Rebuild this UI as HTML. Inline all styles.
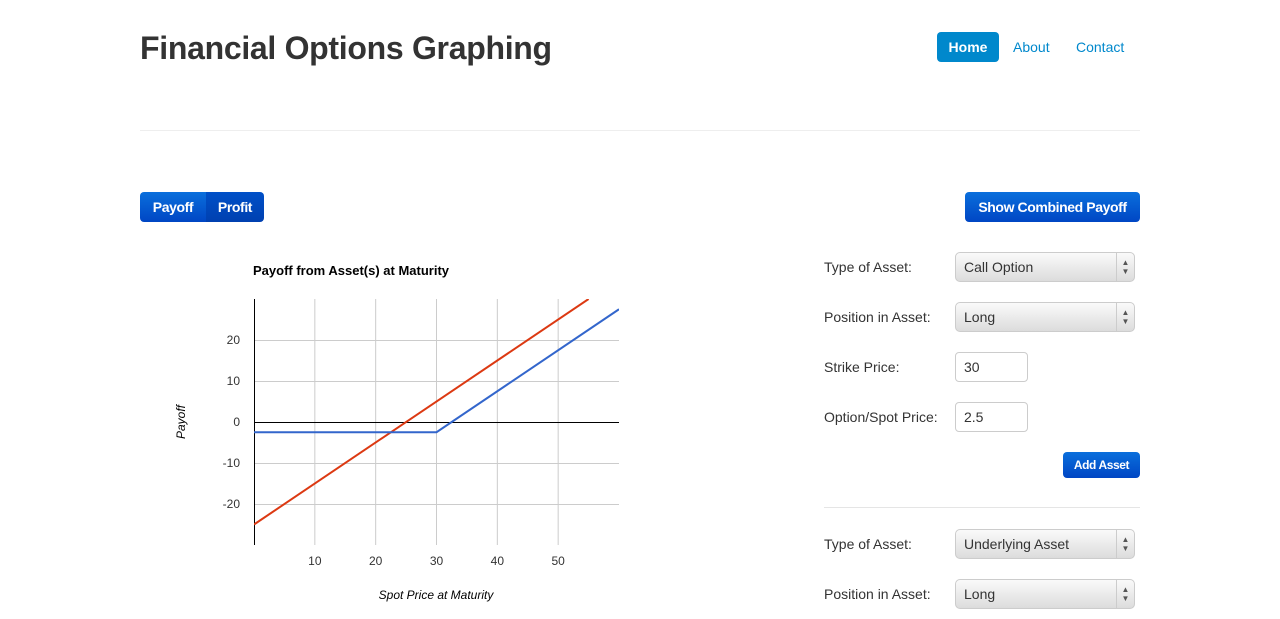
<!DOCTYPE html>
<html><head><meta charset="utf-8">
<style>
body{margin:0;width:1280px;height:619px;background:#fff;font-family:"Liberation Sans",Arial,sans-serif;position:relative;overflow:hidden;color:#333}
.a{position:absolute}
h1{position:absolute;left:140px;top:30px;margin:0;font-size:32px;font-weight:bold;color:#333;letter-spacing:-0.3px}
.nav{font-size:14px;color:#0088cc}
.btn{background:linear-gradient(#0a6fdc,#0046c4);color:#fff;font-size:14px;font-weight:bold;letter-spacing:-0.4px;border-radius:4px;text-align:center;box-sizing:border-box}
.lbl{font-size:14px;color:#333}
.sel{width:180px;height:30px;border:1px solid #ccc;border-radius:5px;background:linear-gradient(#fafafa,#dcdcdc);box-sizing:border-box;font-size:14px;padding:6px 8px;color:#333}
.sel span.ar{position:absolute;right:0;top:0;width:18px;height:28px;border-left:1px solid #ccc;font-size:8px;line-height:9px;text-align:center;padding-top:5px;box-sizing:border-box;color:#555}
.inp{width:73px;height:30px;border:1px solid #ccc;border-radius:4px;box-sizing:border-box;font-size:14px;padding:6px 8px;background:#fff}
</style></head><body>
<h1>Financial Options Graphing</h1>
<div class="a nav" style="left:937px;top:32px;width:62px;height:30px;background:#0088cc;color:#fff;border-radius:4px;text-align:center;line-height:30px;font-weight:bold">Home</div>
<div class="a nav" style="left:1013px;top:39px">About</div>
<div class="a nav" style="left:1076px;top:39px">Contact</div>
<div class="a" style="left:140px;top:130px;width:1000px;height:1px;background:#eee"></div>
<div class="a btn" style="left:140px;top:192px;width:66px;height:30px;line-height:30px;border-radius:4px 0 0 4px">Payoff</div>
<div class="a btn" style="left:206px;top:192px;width:58px;height:30px;line-height:30px;border-radius:0 4px 4px 0;background:linear-gradient(#0050c8,#0040b0)">Profit</div>
<div class="a btn" style="left:965px;top:192px;width:175px;height:30px;line-height:30px">Show Combined Payoff</div>

<svg class="a" style="left:0;top:0" width="700" height="619" id="chart"></svg>

<div class="a lbl" style="left:824px;top:259px">Type of Asset:</div>
<div class="a sel" style="left:955px;top:252px">Call Option<span class="ar">▲<br>▼</span></div>
<div class="a lbl" style="left:824px;top:309px">Position in Asset:</div>
<div class="a sel" style="left:955px;top:302px">Long<span class="ar">▲<br>▼</span></div>
<div class="a lbl" style="left:824px;top:359px">Strike Price:</div>
<div class="a inp" style="left:955px;top:352px">30</div>
<div class="a lbl" style="left:824px;top:409px">Option/Spot Price:</div>
<div class="a inp" style="left:955px;top:402px">2.5</div>
<div class="a btn" style="left:1063px;top:452px;width:77px;height:26px;line-height:26px;font-size:12px">Add Asset</div>
<div class="a" style="left:824px;top:507px;width:316px;height:1px;background:#e5e5e5"></div>
<div class="a lbl" style="left:824px;top:536px">Type of Asset:</div>
<div class="a sel" style="left:955px;top:529px">Underlying Asset<span class="ar">▲<br>▼</span></div>
<div class="a lbl" style="left:824px;top:586px">Position in Asset:</div>
<div class="a sel" style="left:955px;top:579px">Long<span class="ar">▲<br>▼</span></div>

<script>
const xTicks=[10,20,30,40,50];
const yTicks=[-20,-10,0,10,20];
const underlyingX=[0,55];
const underlyingY=[-25,30];
const callX=[0,30,60];
const callY=[-2.5,-2.5,27.5];
const L=254,R=619,T=299,B=545;
const xs=v=>L+(v-0)/(60-0)*(R-L);
const ys=v=>B-(v+30)/(60)*(B-T);
const svg=document.getElementById('chart');
const NS='http://www.w3.org/2000/svg';
function mk(t,a){const e=document.createElementNS(NS,t);for(const k in a)e.setAttribute(k,a[k]);svg.appendChild(e);return e;}
let e;
e=mk('text',{x:253,y:275,'font-size':13,'font-weight':'bold',fill:'#000','font-family':'Liberation Sans,sans-serif'});e.textContent='Payoff from Asset(s) at Maturity';


xTicks.forEach(v=>{
 e=mk('line',{x1:xs(v),x2:xs(v),y1:T,y2:B,stroke:'#ccc'});
 
 
 e=mk('text',{x:xs(v),y:565,'font-size':12,'text-anchor':'middle',fill:'#333','font-family':'Liberation Sans,sans-serif'});e.textContent=v;
 
 
});
yTicks.forEach(v=>{
 e=mk('line',{x1:L,x2:R,y1:Math.round(ys(v))+0.5,y2:Math.round(ys(v))+0.5,stroke:v===0?'#000':'#ccc'});
 
 
 e=mk('text',{x:240,y:ys(v)+4,'font-size':12,'text-anchor':'end',fill:'#333','font-family':'Liberation Sans,sans-serif'});e.textContent=v;
 
 
});
e=mk('line',{x1:L+0.5,x2:L+0.5,y1:T,y2:B,stroke:'#000'});


e=mk('text',{x:436,y:599,'font-size':12,'font-style':'italic','text-anchor':'middle',fill:'#000','font-family':'Liberation Sans,sans-serif'});e.textContent='Spot Price at Maturity';


e=mk('text',{x:0,y:0,'font-size':12,'font-style':'italic','text-anchor':'middle',fill:'#000',transform:'translate(185,422) rotate(-90)','font-family':'Liberation Sans,sans-serif'});e.textContent='Payoff';


const cp=document.createElementNS(NS,'clipPath');cp.setAttribute('id','cp');svg.appendChild(cp);
const r=document.createElementNS(NS,'rect');r.setAttribute('x',L);r.setAttribute('y',T);r.setAttribute('width',R-L);r.setAttribute('height',B-T);cp.appendChild(r);
function line(X,Y,c,n){
 e=mk('polyline',{points:X.map((x,i)=>xs(x)+','+ys(Y[i])).join(' '),fill:'none',stroke:c,'stroke-width':2,'clip-path':'url(#cp)'});
 
 
}
line(underlyingX,underlyingY,'#dc3912','underlying-line');
line(callX,callY,'#3366cc','call-option-line');
</script>
</body></html>
